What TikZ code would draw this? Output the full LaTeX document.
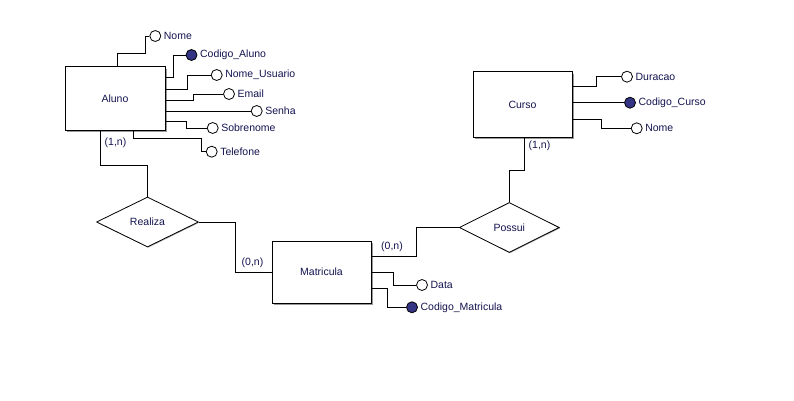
\documentclass[tikz,border=0pt]{standalone}
\usepackage{fontspec}
\setmainfont{Liberation Sans}
\usetikzlibrary{shapes.geometric,shadows}
\definecolor{ink}{RGB}{20,20,80}
\definecolor{keyfill}{RGB}{52,52,132}
\begin{document}
\begin{tikzpicture}[x=1pt,y=-1pt,
  every node/.style={font=\fontsize{10.5}{12}\selectfont, text=ink},
  entity/.style={draw=black, line width=1pt, fill=white, rectangle, inner sep=0pt,
    drop shadow={shadow xshift=1.6pt, shadow yshift=-1.6pt, fill=black!40, opacity=1}},
  relation/.style={draw=black, line width=0.8pt, fill=white, diamond, inner sep=0pt, aspect=2,
    drop shadow={shadow xshift=0.8pt, shadow yshift=-0.8pt, fill=black!35, opacity=1}},
  attr/.style={circle, draw=black, line width=0.8pt, fill=white, inner sep=0pt, minimum size=11pt},
  keyattr/.style={attr, fill=keyfill},
  attrtext/.style={anchor=west, inner sep=0.5pt, xshift=2pt},
  card/.style={inner sep=0pt},
  link/.style={draw=black, line width=0.8pt}
]
\fill[white] (0,0) rectangle (794,401);
\useasboundingbox (0,0) rectangle (794,401);

% entities
\node[entity, minimum width=100pt, minimum height=63pt] (aluno) at (115,98.5) {Aluno};
\node[entity, minimum width=99pt, minimum height=65pt] (curso) at (522.5,104.5) {Curso};
\node[entity, minimum width=99pt, minimum height=62pt] (matricula) at (321.5,272) {Matricula};

% relationships
\node[relation, minimum width=102pt, minimum height=50pt] (realiza) at (147.5,222) {Realiza};
\node[relation, minimum width=100pt, minimum height=50pt] (possui) at (509.3,227.5) {Possui};

% relationship links
\draw[link] (aluno.south -| 100,0) -- (100,165) -| (realiza.north);
\draw[link] (realiza.east) -- (235,222) |- (matricula.west);
\draw[link] (matricula.east |- 0,256) -| (416,227.5) -- (possui.west);
\draw[link] (curso.south -| 524,0) -- (524,170) -| (possui.north);

% cardinalities
\node[card] (cardA) at (115.5,143) {(1,n)};
\node[card] (cardR) at (252.5,263) {(0,n)};
\node[card] (cardP) at (392,247) {(0,n)};
\node[card] (cardC) at (539.5,146) {(1,n)};

% Aluno attributes
\node[attr] (a1) at (155.3,36) {};
\node[attrtext] at (a1.east) {Nome};
\draw[link] (aluno.north -| 117,0) -- (117,53) -- (145,53) |- (a1.west);

\node[keyattr] (a2) at (191.5,55) {};
\node[attrtext] at (a2.east) {Codigo\_Aluno};
\draw[link] (aluno.east |- 0,77) -- (173,77) |- (a2.west);

\node[attr] (a3) at (216.7,75) {};
\node[attrtext] at (a3.east) {Nome\_Usuario};
\draw[link] (aluno.east |- 0,89) -- (187,89) |- (a3.west);

\node[attr] (a4) at (229,94) {};
\node[attrtext] at (a4.east) {Email};
\draw[link] (aluno.east |- 0,100) -- (193,100) |- (a4.west);

\node[attr] (a5) at (256.7,111) {};
\node[attrtext] at (a5.east) {Senha};
\draw[link] (aluno.east |- a5.west) -- (a5.west);

\node[attr] (a6) at (212.7,128) {};
\node[attrtext] at (a6.east) {Sobrenome};
\draw[link] (aluno.east |- 0,121.7) -- (186,121.7) |- (a6.west);

\node[attr] (a7) at (211.7,151.7) {};
\node[attrtext] at (a7.east) {Telefone};
\draw[link] (aluno.south -| 133.3,0) -- (133.3,138.3) -- (201.7,138.3) |- (a7.west);

% Curso attributes
\node[attr] (c1) at (627,76.7) {};
\node[attrtext] at (c1.east) {Duracao};
\draw[link] (curso.east |- 0,86.7) -- (596,86.7) |- (c1.west);

\node[keyattr] (c2) at (630,102.7) {};
\node[attrtext] at (c2.east) {Codigo\_Curso};
\draw[link] (curso.east |- c2.west) -- (c2.west);

\node[attr] (c3) at (636.7,128.3) {};
\node[attrtext] at (c3.east) {Nome};
\draw[link] (curso.east |- 0,119.3) -- (601.7,119.3) |- (c3.west);

% Matricula attributes
\node[attr] (m1) at (422,285) {};
\node[attrtext] at (m1.east) {Data};
\draw[link] (matricula.east |- 0,272) -- (393.3,272) |- (m1.west);

\node[keyattr] (m2) at (412,307.3) {};
\node[attrtext] at (m2.east) {Codigo\_Matricula};
\draw[link] (matricula.east |- 0,288.3) -- (387.7,288.3) |- (m2.west);
\end{tikzpicture}
\end{document}
